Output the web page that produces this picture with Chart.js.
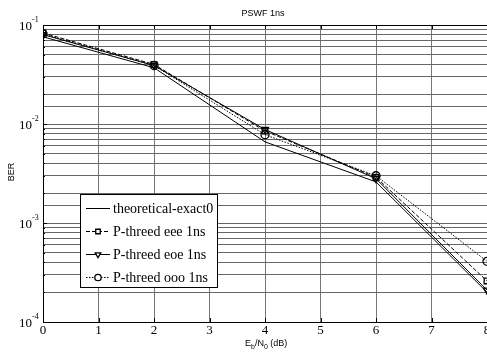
<!DOCTYPE html>
<html>
<head>
<meta charset="utf-8">
<script src="https://cdn.jsdelivr.net/npm/chart.js@4.4.0/dist/chart.umd.min.js"></script>
<style>
  html, body { margin: 0; padding: 0; background: #fff; }
  #wrap { width: 487px; height: 356px; position: relative; }
</style>
</head>
<body>
<div id="wrap"><canvas id="berChart" width="487" height="356"></canvas></div>
<script>
// values
const snrDb = [0, 2, 4, 6, 8];
const theoretical = [0.076, 0.037, 0.0066, 0.0026, 0.00020];
const threedEee = [0.083, 0.040, 0.0085, 0.0029, 0.00026];
const threedEoe = [0.080, 0.039, 0.0088, 0.0028, 0.00021];
const threedOoo = [0.081, 0.039, 0.0078, 0.0030, 0.00041];
const xTicks = [0, 1, 2, 3, 4, 5, 6, 7, 8];
const yDecades = [-1, -2, -3, -4];
const legendLabels = ['theoretical-exact0', 'P-threed eee 1ns', 'P-threed eoe 1ns', 'P-threed ooo 1ns'];

const serif = '"Liberation Serif", "Times New Roman", serif';
const sans = '"Liberation Sans", Arial, sans-serif';

function toPoints(ys) {
    return snrDb.map((x, i) => ({ x: x, y: ys[i] }));
}

const seriesStyle = [
    { dash: [], point: false, rot: 0 },
    { dash: [4, 2], point: 'rect', rot: 0 },
    { dash: [], point: 'triangle', rot: 180 },
    { dash: [1.5, 1.5], point: 'circle', rot: 0 }
];

const datasets = [theoretical, threedEee, threedEoe, threedOoo].map((ys, i) => ({
    label: legendLabels[i],
    data: toPoints(ys),
    borderColor: '#000',
    borderWidth: 1,
    borderDash: seriesStyle[i].dash,
    pointStyle: seriesStyle[i].point,
    pointRotation: seriesStyle[i].rot,
    pointRadius: seriesStyle[i].point ? 4 : 0,
    pointBorderColor: '#000',
    pointBorderWidth: 1.3,
    pointBackgroundColor: 'rgba(255,255,255,0)',
    fill: false,
    tension: 0
}));

// draws the frame, tick labels, title, axis labels and the boxed legend
const decorPlugin = {
    id: 'decor',
    afterDraw(chart) {
        const ctx = chart.ctx;
        const area = chart.chartArea;
        const xs = chart.scales.x;
        const ys = chart.scales.y;
        ctx.save();

        // frame
        ctx.strokeStyle = '#000';
        ctx.lineWidth = 1;
        ctx.strokeRect(area.left + 0.5, area.top + 0.5, area.right - area.left, area.bottom - area.top);

        // small inner tick marks
        ctx.beginPath();
        xTicks.forEach(v => {
            const px = Math.round(xs.getPixelForValue(v)) + 0.5;
            ctx.moveTo(px, area.bottom); ctx.lineTo(px, area.bottom - 4);
            ctx.moveTo(px, area.top); ctx.lineTo(px, area.top + 4);
        });
        for (let d = -4; d < -1; d++) {
            for (let m = 1; m < 10; m++) {
                const py = Math.round(ys.getPixelForValue(m * Math.pow(10, d))) + 0.5;
                const len = m === 1 ? 4 : 2;
                ctx.moveTo(area.left, py); ctx.lineTo(area.left + len, py);
            }
        }
        ctx.stroke();

        // x tick labels
        ctx.fillStyle = '#000';
        ctx.font = '13px ' + serif;
        ctx.textAlign = 'center';
        ctx.textBaseline = 'middle';
        xTicks.forEach(v => {
            ctx.fillText(String(v), xs.getPixelForValue(v), area.bottom + 9);
        });

        // y tick labels 10^n
        yDecades.forEach(e => {
            const py = ys.getPixelForValue(Math.pow(10, e));
            ctx.font = '13px ' + serif;
            ctx.textAlign = 'right';
            ctx.textBaseline = 'middle';
            ctx.fillText('10', 32, py + 2);
            ctx.font = '8px ' + serif;
            ctx.textAlign = 'left';
            ctx.fillText(String(e), 32, py - 5);
        });

        // title
        ctx.font = '9px ' + sans;
        ctx.textAlign = 'center';
        ctx.textBaseline = 'middle';
        ctx.fillText('PSWF 1ns', 263, 14);

        // x axis label E_b/N_0 (dB)
        let cx = 245;
        const by = 346;
        ctx.textAlign = 'left';
        ctx.textBaseline = 'alphabetic';
        const parts = [['E', 9, 0], ['b', 7, 3], ['/N', 9, 0], ['0', 7, 3], [' (dB)', 9, 0]];
        parts.forEach(p => {
            ctx.font = p[1] + 'px ' + sans;
            ctx.fillText(p[0], cx, by + p[2]);
            cx += ctx.measureText(p[0]).width;
        });

        // y axis label
        ctx.save();
        ctx.translate(12, 172);
        ctx.rotate(-Math.PI / 2);
        ctx.font = '9px ' + sans;
        ctx.textAlign = 'center';
        ctx.textBaseline = 'middle';
        ctx.fillText('BER', 0, 0);
        ctx.restore();

        // legend box
        const lx = 80, ly = 194, lw = 137, lh = 93;
        ctx.fillStyle = '#fff';
        ctx.fillRect(lx, ly, lw, lh);
        ctx.strokeStyle = '#000';
        ctx.lineWidth = 1;
        ctx.strokeRect(lx + 0.5, ly + 0.5, lw, lh);
        const rowH = 23;
        chart.data.datasets.forEach((ds, i) => {
            const ry = ly + 14 + i * rowH;
            ctx.save();
            ctx.strokeStyle = '#000';
            ctx.lineWidth = 1;
            ctx.setLineDash(ds.borderDash);
            ctx.beginPath();
            ctx.moveTo(lx + 6, ry + 0.5);
            ctx.lineTo(lx + 30, ry + 0.5);
            ctx.stroke();
            ctx.setLineDash([]);
            if (ds.pointStyle) {
                ctx.fillStyle = '#fff';
                ctx.lineWidth = 1.3;
                Chart.helpers.drawPoint(ctx, {
                    pointStyle: ds.pointStyle,
                    rotation: ds.pointRotation,
                    radius: 3.2,
                    borderWidth: 1.3
                }, lx + 18, ry + 0.5);
            }
            ctx.restore();
            ctx.fillStyle = '#000';
            ctx.font = '14px ' + serif;
            ctx.textAlign = 'left';
            ctx.textBaseline = 'middle';
            ctx.fillText(ds.label, lx + 33, ry + 1);
        });

        ctx.restore();
    }
};

const ctx = document.getElementById('berChart').getContext('2d');
const berChart = new Chart(ctx, {
    type: 'line',
    data: { datasets: datasets },
    options: {
        responsive: false,
        animation: false,
        events: [],
        layout: { autoPadding: false, padding: { top: 25, left: 0, right: 0, bottom: 0 } },
        scales: {
            x: {
                type: 'linear',
                min: 0,
                max: 8,
                ticks: { display: false, stepSize: 1 },
                grid: { color: '#777', lineWidth: 1, drawTicks: false },
                border: { display: false },
                afterFit(scale) {
                    scale.height = 34;
                    scale.paddingLeft = 0;
                    scale.paddingRight = 0;
                }
            },
            y: {
                type: 'logarithmic',
                min: 1e-4,
                max: 1e-1,
                ticks: { display: false, callback: () => '' },
                grid: { color: '#666', lineWidth: 1, drawTicks: false },
                border: { display: false },
                afterFit(scale) {
                    scale.width = 43;
                    scale.paddingTop = 0;
                    scale.paddingBottom = 0;
                }
            }
        },
        plugins: {
            legend: { display: false },
            title: { display: false },
            tooltip: { enabled: false }
        }
    },
    plugins: [decorPlugin]
});
</script>
</body>
</html>
